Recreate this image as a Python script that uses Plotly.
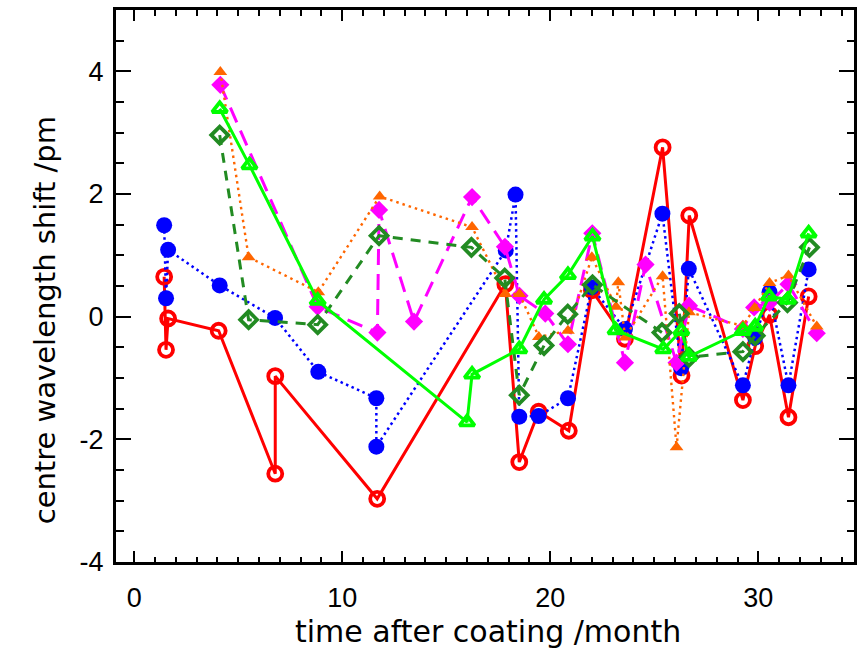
import plotly.graph_objects as go

# ---- data ----
red_x = [1.44, 1.53, 1.63, 4.06, 6.78, 6.78, 11.68, 17.84, 18.51, 19.44, 20.89, 22.0, 23.59, 25.4, 26.31, 26.68, 29.26, 29.85, 30.54, 31.45, 32.42]
red_y = [0.65, -0.54, -0.03, -0.23, -2.56, -0.97, -2.97, 0.53, -2.37, -1.55, -1.86, 0.43, -0.36, 2.76, -0.96, 1.65, -1.36, -0.48, 0.03, -1.64, 0.33]

blue_x = [1.44, 1.53, 1.63, 4.11, 6.77, 8.85, 11.64, 11.64, 17.86, 18.33, 18.51, 19.44, 20.85, 21.99, 23.59, 25.39, 26.29, 26.66, 29.26, 29.85, 30.54, 31.45, 32.42]
blue_y = [1.49, 0.30, 1.09, 0.51, -0.02, -0.90, -1.33, -2.12, 1.08, 1.99, -1.63, -1.62, -1.33, 0.48, -0.20, 1.68, -0.84, 0.78, -1.12, -0.34, 0.40, -1.12, 0.77]

orange_x = [4.14, 5.50, 8.85, 11.8, 16.24, 17.84, 18.52, 19.45, 20.85, 22.0, 23.16, 23.27, 23.6, 25.4, 26.07, 26.67, 29.26, 29.82, 30.54, 31.45, 32.81]
orange_y = [3.99, 0.97, 0.40, 1.96, 1.46, 0.37, 0.37, -0.33, -0.23, 0.97, 0.16, 0.56, -0.34, 0.66, -2.13, 0.07, -0.15, 0.14, 0.55, 0.67, -0.16]

magenta_x = [4.14, 8.82, 11.69, 11.77, 13.45, 16.24, 17.82, 18.52, 19.76, 20.85, 22.02, 23.59, 24.58, 26.07, 26.67, 29.26, 29.8, 30.54, 31.45, 32.81]
magenta_y = [3.78, 0.16, -0.26, 1.74, -0.08, 1.95, 1.14, 0.34, 0.05, -0.45, 1.36, -0.75, 0.85, -0.75, 0.18, -0.2, 0.15, 0.23, 0.53, -0.27]

dkgreen_x = [4.11, 5.50, 8.82, 11.77, 16.21, 17.81, 18.51, 19.7, 20.84, 22.03, 25.37, 26.2, 26.67, 29.26, 29.85, 31.4, 32.46]
dkgreen_y = [2.96, -0.05, -0.13, 1.32, 1.13, 0.63, -1.28, -0.47, 0.04, 0.52, -0.26, 0.05, -0.66, -0.57, -0.31, 0.23, 1.13]

green_x = [4.11, 5.54, 8.82, 16.0, 16.24, 18.51, 19.7, 20.85, 22.03, 23.14, 25.43, 26.3, 26.67, 29.26, 29.85, 30.52, 31.42, 32.42]
green_y = [3.39, 2.47, 0.26, -1.72, -0.94, -0.53, 0.28, 0.68, 1.31, -0.22, -0.53, -0.23, -0.65, -0.23, -0.16, 0.33, 0.28, 1.36]

x_ticks = [0, 10, 20, 30]
y_ticks = [-4, -2, 0, 2, 4]
y_ticklabels = ["-4", "-2", "0", "2", "4"]
x_title = "time after coating /month"
y_title = "centre wavelength shift /pm"

fig = go.Figure()

def add(x, y, color, dash, width, symbol, size, mline=0):
    fig.add_trace(go.Scatter(
        x=x, y=y, mode="lines+markers",
        line=dict(color=color, dash=dash, width=width),
        marker=dict(symbol=symbol, size=size, color=color,
                    line=dict(color=color, width=mline)),
        showlegend=False, cliponaxis=False))

add(red_x, red_y, "#ff0000", "solid", 3, "circle-open", 14, 3.8)
add(blue_x, blue_y, "#0000ff", "2.5px,3.5px", 2.5, "circle", 16, 0)
add(magenta_x, magenta_y, "#ff00ff", "16px,9px", 3, "diamond", 14, 0)
add(orange_x, orange_y, "#ff6600", "2.5px,4px", 2.4, "triangle-up", 12, 0)
add(dkgreen_x, dkgreen_y, "#228b22", "10px,8px", 3, "diamond-open", 13, 3.8)
add(green_x, green_y, "#00ff00", "solid", 3, "triangle-up-open", 13, 3.8)

tick_font = "Liberation Sans, Arial, sans-serif"
title_font = "DejaVu Sans, sans-serif"
fig.update_layout(
    width=857, height=653,
    margin=dict(l=116, r=0, t=10, b=91),
    paper_bgcolor="white", plot_bgcolor="white",
    font=dict(family=tick_font, size=27, color="black"),
    xaxis=dict(range=[-0.875, 34.6], tickvals=x_ticks, ticks="inside",
               ticklen=11, tickwidth=2, tickcolor="black",
               showline=True, linecolor="black", linewidth=3, mirror="allticks",
               showgrid=False, zeroline=False,
               minor=dict(dtick=1, ticks="inside", ticklen=5.5, tickwidth=2, tickcolor="black", showgrid=False),
               ticklabelstandoff=10),
    yaxis=dict(range=[-4, 5], tickvals=y_ticks, ticktext=y_ticklabels,
               ticks="inside",
               ticklen=15, tickwidth=2, tickcolor="black",
               showline=True, linecolor="black", linewidth=3, mirror="allticks",
               showgrid=False, zeroline=False,
               minor=dict(dtick=0.5, ticks="inside", ticklen=7.5, tickwidth=2, tickcolor="black", showgrid=False),
               ticklabelstandoff=4),
    annotations=[
        dict(text=x_title, xref="paper", yref="paper", x=0.5047, y=-0.1268,
             xanchor="center", yanchor="middle", showarrow=False,
             font=dict(family=title_font, size=30, color="black")),
        dict(text=y_title, xref="paper", yref="paper", x=-0.0958, y=0.4384,
             xanchor="center", yanchor="middle", textangle=-90, showarrow=False,
             font=dict(family=title_font, size=29, color="black")),
    ],
)

fig.write_html("out.html")
